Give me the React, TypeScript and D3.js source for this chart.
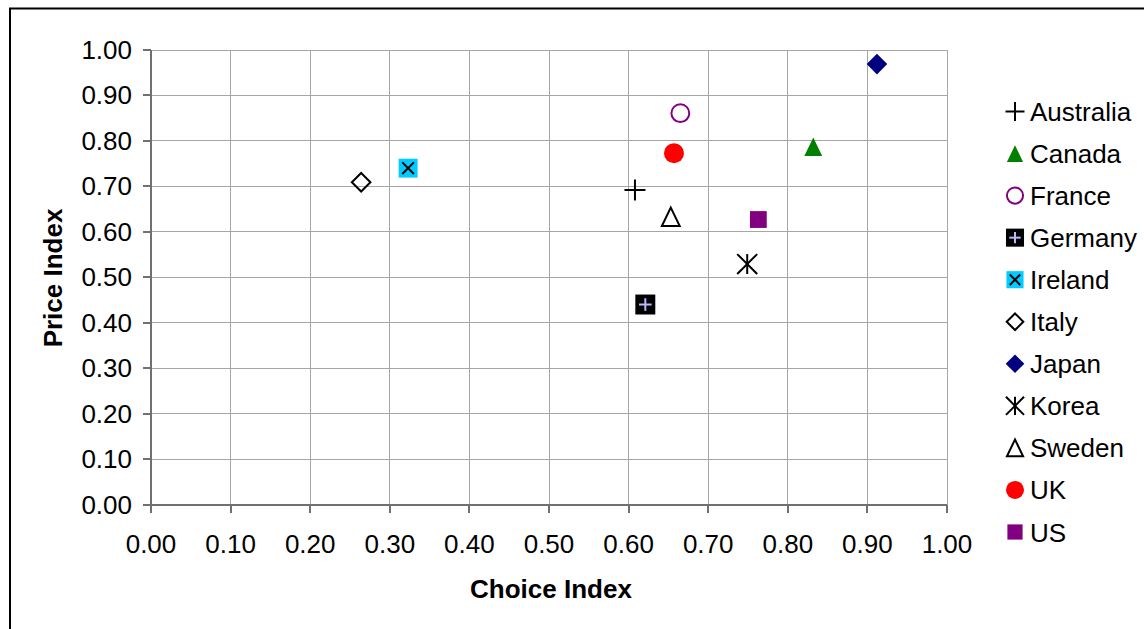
import React from "react";
import * as d3 from "d3";

const countries = ["Australia", "Canada", "France", "Germany", "Ireland", "Italy", "Japan", "Korea", "Sweden", "UK", "US"];
const choiceIndex = [0.608, 0.832, 0.665, 0.621, 0.323, 0.264, 0.912, 0.749, 0.653, 0.657, 0.763];
const priceIndex = [0.692, 0.787, 0.861, 0.440, 0.740, 0.709, 0.969, 0.529, 0.633, 0.773, 0.627];
const markerTypes = ["plus", "triangleFill", "circleOpen", "squarePlus", "squareX", "diamondOpen", "diamondFill", "asterisk", "triangleOpen", "circleFill", "squareFill"];
const markerColors = ["#000000", "#008000", "#800080", "#000000", "#00CCFF", "#000000", "#000080", "#000000", "#000000", "#FF0000", "#800080"];
const ticks = [0, 0.1, 0.2, 0.3, 0.4, 0.5, 0.6, 0.7, 0.8, 0.9, 1.0];

const FONT = "'Liberation Sans', Arial, sans-serif";

function Marker({ type, color, cx, cy, s }: { type: string; color: string; cx: number; cy: number; s: number }) {
  const h = s / 2;
  switch (type) {
    case "plus":
      return (
        <g stroke="#000" strokeWidth={2}>
          <line x1={cx - h} x2={cx + h} y1={cy} y2={cy} />
          <line x1={cx} x2={cx} y1={cy - h} y2={cy + h} />
        </g>
      );
    case "triangleFill":
    case "triangleOpen": {
      const th = s * 0.88;
      const pts = `${cx},${cy - th / 2} ${cx + h * 0.85},${cy + th / 2} ${cx - h * 0.85},${cy + th / 2}`;
      return type === "triangleFill" ? (
        <polygon points={pts} fill={color} />
      ) : (
        <polygon points={pts} fill="none" stroke={color} strokeWidth={2} />
      );
    }
    case "circleOpen":
      return <circle cx={cx} cy={cy} r={h * 0.85} fill="none" stroke={color} strokeWidth={2} />;
    case "circleFill":
      return <circle cx={cx} cy={cy} r={h * 0.95} fill={color} />;
    case "squareFill":
      return <rect x={cx - h * 0.8} y={cy - h * 0.8} width={s * 0.8} height={s * 0.8} fill={color} />;
    case "squarePlus": {
      const q = h * 0.6;
      return (
        <g>
          <rect x={cx - h * 0.95} y={cy - h * 0.95} width={s * 0.95} height={s * 0.95} fill="#000" />
          <g stroke="#B8B8FF" strokeWidth={2}>
            <line x1={cx - q} x2={cx + q} y1={cy} y2={cy} />
            <line x1={cx} x2={cx} y1={cy - q} y2={cy + q} />
          </g>
        </g>
      );
    }
    case "squareX": {
      const q = h * 0.55;
      return (
        <g>
          <rect x={cx - h * 0.9} y={cy - h * 0.9} width={s * 0.9} height={s * 0.9} fill={color} />
          <g stroke="#000" strokeWidth={2}>
            <line x1={cx - q} x2={cx + q} y1={cy - q} y2={cy + q} />
            <line x1={cx - q} x2={cx + q} y1={cy + q} y2={cy - q} />
          </g>
        </g>
      );
    }
    case "diamondOpen":
    case "diamondFill": {
      const d = h * 0.98;
      const pts = `${cx},${cy - d} ${cx + d},${cy} ${cx},${cy + d} ${cx - d},${cy}`;
      return type === "diamondFill" ? (
        <polygon points={pts} fill={color} />
      ) : (
        <polygon points={`${cx},${cy - d + 1} ${cx + d - 1},${cy} ${cx},${cy + d - 1} ${cx - d + 1},${cy}`} fill="none" stroke={color} strokeWidth={2} />
      );
    }
    case "asterisk": {
      const q = h * 0.95;
      return (
        <g stroke="#000" strokeWidth={2}>
          <line x1={cx - q} x2={cx + q} y1={cy - q} y2={cy + q} />
          <line x1={cx - q} x2={cx + q} y1={cy + q} y2={cy - q} />
          <line x1={cx} x2={cx} y1={cy - q} y2={cy + q} />
        </g>
      );
    }
    default:
      return null;
  }
}

export default function App() {
  const x = d3.scaleLinear().domain([0, 1]).range([151, 947]);
  const y = d3.scaleLinear().domain([0, 1]).range([504.5, 50]);
  const fmt = d3.format(".2f");
  const legendY = d3.scaleLinear().domain([0, countries.length - 1]).range([111.5, 532]);

  return (
    <svg width={1144} height={629} style={{ position: "absolute", left: 0, top: 0, background: "#fff" }} fontFamily={FONT}>
      <rect x={0} y={0} width={1144} height={629} fill="#fff" />
      <rect x={10} y={8.5} width={1150} height={640} fill="none" stroke="#000" strokeWidth={2} />

      {/* gridlines */}
      <g stroke="#A6A6A6" strokeWidth={1} shapeRendering="crispEdges">
        {ticks.slice(1).map((t) => (
          <line key={"h" + t} x1={x(0)} x2={x(1)} y1={y(t)} y2={y(t)} />
        ))}
        {ticks.slice(1).map((t) => (
          <line key={"v" + t} x1={x(t)} x2={x(t)} y1={y(0)} y2={y(1)} />
        ))}
      </g>

      {/* axes */}
      <g stroke="#707070" strokeWidth={2} shapeRendering="crispEdges">
        <line x1={x(0)} x2={x(0)} y1={y(0)} y2={y(1)} />
        <line x1={x(0)} x2={x(1)} y1={y(0)} y2={y(0)} />
        {ticks.map((t) => (
          <line key={"yt" + t} x1={x(0) - 8} x2={x(0)} y1={y(t)} y2={y(t)} />
        ))}
        {ticks.map((t) => (
          <line key={"xt" + t} x1={x(t)} x2={x(t)} y1={y(0)} y2={y(0) + 8} />
        ))}
      </g>

      {/* tick labels */}
      <g fontSize={26} fill="#000">
        {ticks.map((t) => (
          <text key={"yl" + t} x={132} y={y(t) + 9} textAnchor="end">
            {fmt(t)}
          </text>
        ))}
        {ticks.map((t) => (
          <text key={"xl" + t} x={x(t)} y={553} textAnchor="middle">
            {fmt(t)}
          </text>
        ))}
      </g>

      {/* axis titles */}
      <text x={551} y={598} textAnchor="middle" fontSize={26} fontWeight="bold">
        Choice Index
      </text>
      <text transform={`translate(62,278) rotate(-90)`} textAnchor="middle" fontSize={26} fontWeight="bold">
        Price Index
      </text>

      {/* points */}
      {countries.map((c, i) => (
        <Marker key={c} type={markerTypes[i]} color={markerColors[i]} cx={x(choiceIndex[i])} cy={y(priceIndex[i])} s={21} />
      ))}

      {/* legend */}
      {countries.map((c, i) => (
        <g key={"lg" + c}>
          <Marker type={markerTypes[i]} color={markerColors[i]} cx={1015} cy={legendY(i)} s={19} />
          <text x={1030} y={legendY(i) + 9.5} fontSize={26}>
            {c}
          </text>
        </g>
      ))}
    </svg>
  );
}
